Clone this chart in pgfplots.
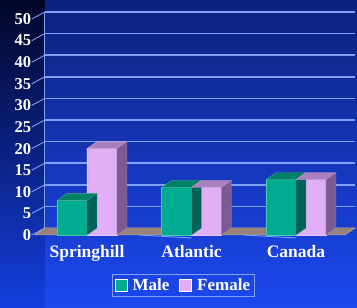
\documentclass[border=0pt]{standalone}
\usepackage{pgfplots}
\pgfplotsset{compat=1.18}
\usepackage{fontspec}
\setmainfont{Liberation Serif}
\definecolor{maleF}{RGB}{0,172,145}
\definecolor{maleT}{RGB}{0,130,102}
\definecolor{maleS}{RGB}{0,98,88}
\definecolor{femF}{RGB}{226,174,246}
\definecolor{femT}{RGB}{170,128,190}
\definecolor{femS}{RGB}{122,92,146}
\definecolor{gridc}{RGB}{128,160,245}
\definecolor{floorc}{RGB}{150,130,122}
\definecolor{bgtop}{RGB}{12,34,125}
\definecolor{bgmid}{RGB}{22,55,200}
\definecolor{bgbot}{RGB}{28,72,240}
\definecolor{darkside}{RGB}{2,6,40}
\definecolor{sidebot}{RGB}{20,62,222}
\pgfplotsset{
  faces/.style n args={3}{%
    scatter, only marks, mark=*, mark size=0pt, forget plot,
    mark options={draw=none,fill=none},
    visualization depends on={y \as \yval},
    scatter/@pre marker code/.code={%
      \pgfmathsetmacro{\hh}{\yval*4.32}%
      \filldraw[fill=#2, draw=#2!70!white, line width=0.4pt]
        (#1-15pt,0pt) -- (#1+15pt,0pt) -- (#1+25pt,7pt) -- (#1-5pt,7pt) -- cycle;
      \filldraw[fill=#3, draw=#3!70!white, line width=0.4pt]
        (#1+15pt,0pt) -- (#1+25pt,7pt) -- (#1+25pt,7pt-\hh pt) -- (#1+15pt,-\hh pt) -- cycle;
    },
    scatter/@post marker code/.code={},
  },
}
\begin{document}
\begin{tikzpicture}
\begin{axis}[
  set layers,
  x=104.5pt, y=4.32pt,
  xmin=-0.5, xmax=2.47, ymin=0, ymax=50,
  axis line style={draw=none},
  tick style={draw=none},
  xtick={0,1,2},
  xticklabels={Springhill,Atlantic,Canada},
  ytick={0,5,...,50},
  /pgf/number format/assume math mode=true,
  ticklabel style={text=white},
  yticklabel style={font=\bfseries\fontsize{16.5}{16.5}\selectfont},
  xticklabel style={font=\bfseries\fontsize{17.5}{17.5}\selectfont, yshift=-7pt},
  clip=false,
  legend columns=2,
  legend style={at={(axis cs:0.923,0)}, anchor=north, yshift=-39pt, fill=none, draw=gridc,
    line width=1.2pt, text=white, font=\bfseries\fontsize{17}{17}\selectfont,
    inner sep=2.5pt, nodes={inner sep=2pt},
    /tikz/every odd column/.append style={column sep=3pt},
    /tikz/every even column/.append style={column sep=8pt}},
]
\begin{pgfonlayer}{axis background}
\shade[top color=bgtop, middle color=bgmid, bottom color=bgbot]
  ([shift={(-87pt,-73pt)}]axis cs:0,0) rectangle ([shift={(270pt,235pt)}]axis cs:0,0);
\shade[top color=darkside, bottom color=sidebot]
  ([shift={(-87pt,-73pt)}]axis cs:0,0) rectangle ([shift={(-42pt,235pt)}]axis cs:0,0);
\end{pgfonlayer}
\pgfplotsinvokeforeach{5,10,...,50}{
  \draw[gridc, line width=1.6pt] ([shift={(10pt,7pt)}]axis cs:-0.5,#1) -- ([shift={(10pt,7pt)}]axis cs:2.47,#1);
}
\pgfplotsinvokeforeach{0,5,...,50}{
  \draw[gridc, line width=0.9pt] ([xshift=-3pt]axis cs:-0.5,#1) -- ([shift={(10pt,7pt)}]axis cs:-0.5,#1);
}
\draw[gridc, line width=1.2pt] ([shift={(10pt,7pt)}]axis cs:-0.5,0) -- ([shift={(10pt,7pt)}]axis cs:-0.5,50);
\filldraw[fill=floorc, draw=floorc!70!white, line width=0.5pt] (axis cs:-0.5,0) -- (axis cs:2.47,0) -- ([shift={(10pt,7pt)}]axis cs:2.47,0) -- ([shift={(10pt,7pt)}]axis cs:-0.5,0) -- cycle;
\draw[gridc, line width=0.9pt] (axis cs:0.5,0) -- ++(0,-3pt);
\draw[gridc, line width=0.9pt] (axis cs:1.5,0) -- ++(0,-3pt);
\addplot[ybar, bar width=30pt, bar shift=-15pt, fill=maleF, draw=maleF!70!white, line width=0.5pt,
  legend image code/.code={\draw[fill=maleF, draw=white, line width=0.8pt] (0pt,-6pt) rectangle (12pt,6pt);}]
  coordinates {(0,8) (1,11) (2,12.8)};
\addlegendentry{Male}
\addplot[faces={-15pt}{maleT}{maleS}] coordinates {(0,8) (1,11) (2,12.8)};
\addplot[ybar, bar width=30pt, bar shift=15pt, fill=femF, draw=femF!70!white, line width=0.5pt,
  legend image code/.code={\draw[fill=femF, draw=white, line width=0.8pt] (0pt,-6pt) rectangle (12pt,6pt);}]
  coordinates {(0,20) (1,11) (2,12.8)};
\addlegendentry{Female}
\addplot[faces={15pt}{femT}{femS}] coordinates {(0,20) (1,11) (2,12.8)};
\end{axis}
\end{tikzpicture}
\end{document}
